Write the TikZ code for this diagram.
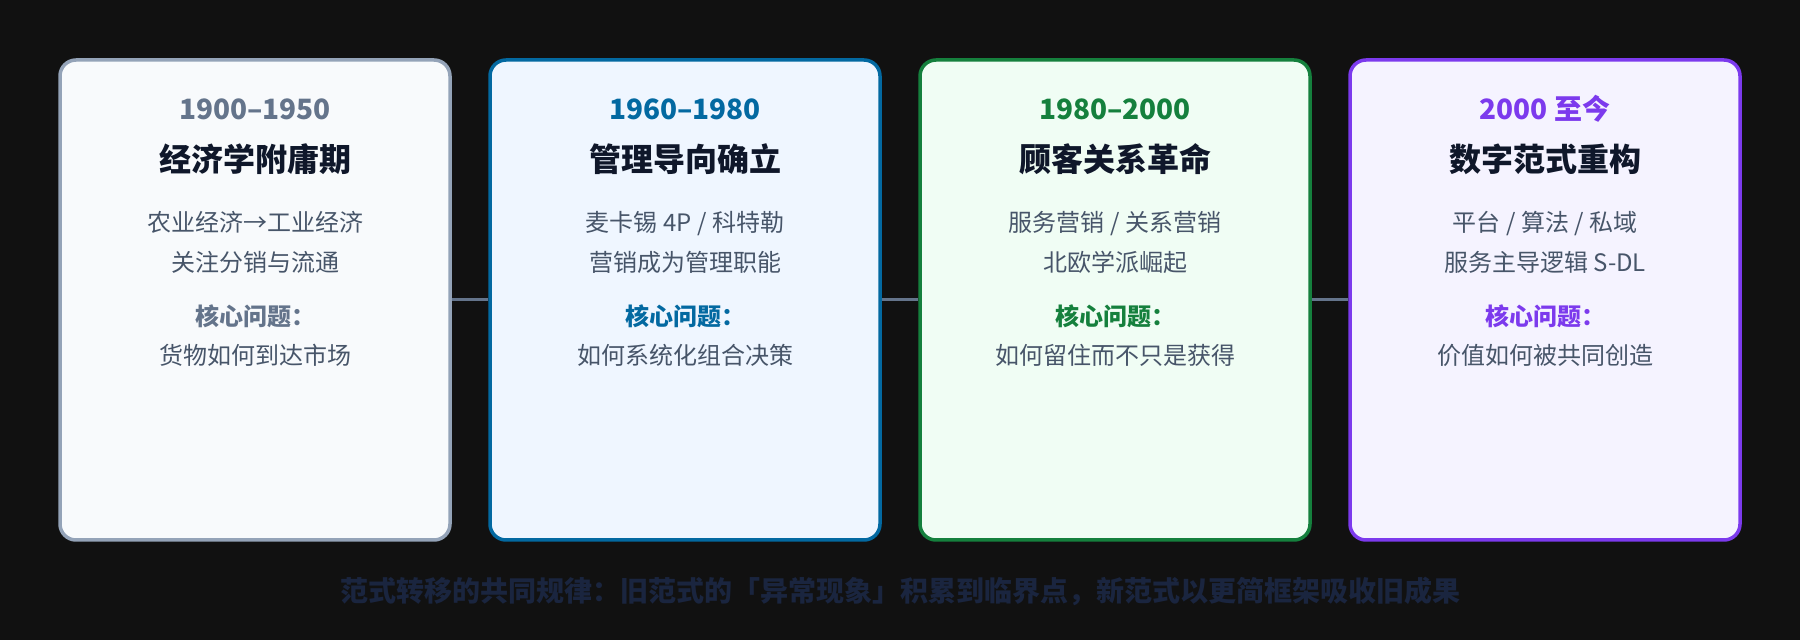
\documentclass[tikz,border=0pt]{standalone}
\usepackage{fontspec}
\setmainfont{Noto Sans CJK SC}
\usetikzlibrary{positioning}
\definecolor{bgdark}{HTML}{111111}
\definecolor{slateline}{HTML}{94A3B8}
\definecolor{slatefill}{HTML}{F8FAFC}
\definecolor{slateink}{HTML}{64748B}
\definecolor{skyline}{HTML}{0369A1}
\definecolor{skyfill}{HTML}{EFF6FF}
\definecolor{skyink}{HTML}{0369A1}
\definecolor{greenline}{HTML}{15803D}
\definecolor{greenfill}{HTML}{F0FDF4}
\definecolor{greenink}{HTML}{15803D}
\definecolor{violetline}{HTML}{7C3AED}
\definecolor{violetfill}{HTML}{F5F3FF}
\definecolor{violetink}{HTML}{7C3AED}
\definecolor{titleink}{HTML}{0F172A}
\definecolor{bodyink}{HTML}{475569}
\definecolor{linkgrey}{HTML}{64748B}
\definecolor{mottoink}{HTML}{1A253F}

\begin{document}
\begin{tikzpicture}[
    x=1pt, y=1pt,
    node distance=40pt,
    era/.style={
      rectangle,
      draw,
      rounded corners=16pt,
      line width=3.5pt,
      minimum width=390pt,
      minimum height=480pt,
      inner sep=0pt,
      outer sep=0pt
    },
    years/.style={font=\fontsize{28}{32}\selectfont\bfseries},
    heading/.style={font=\fontsize{32}{36}\selectfont\bfseries,text=titleink},
    lines/.style={font=\fontsize{24}{40}\selectfont,text=bodyink,align=center},
    key/.style={font=\fontsize{24}{28}\selectfont\bfseries},
    answer/.style={font=\fontsize{24}{28}\selectfont,text=bodyink},
    link/.style={draw=linkgrey,line width=3pt,shorten <=1.75pt,shorten >=1.75pt},
    motto/.style={font=\fontsize{28}{32}\selectfont\bfseries,text=mottoink}
  ]

    % Dark backdrop, which also fixes the page size.
    \fill[bgdark] (0,0) rectangle (1800,640);

    % The four eras, side by side.
    \node[era,draw=slateline,fill=slatefill] (e1) at (255,340) {};
    \node[era,draw=skyline,fill=skyfill,right=of e1] (e2) {};
    \node[era,draw=greenline,fill=greenfill,right=of e2] (e3) {};
    \node[era,draw=violetline,fill=violetfill,right=of e3] (e4) {};

    % Join neighbouring eras.
    \draw[link] (e1.east) -- (e2.west);
    \draw[link] (e2.east) -- (e3.west);
    \draw[link] (e3.east) -- (e4.west);

    % Era 1.
    \node[years,text=slateink] (y1) at ([yshift=-49pt]e1.north) {1900–1950};
    \node[heading] (t1) at ([yshift=-99pt]e1.north) {经济学附庸期};
    \node[lines] (l1) at ([yshift=-182pt]e1.north)
      {农业经济→工业经济\\关注分销与流通};
    \node[key,text=slateink] (k1) at ([yshift=-256pt]e1.north) {核心问题：};
    \node[answer] (a1) at ([yshift=-295pt]e1.north) {货物如何到达市场};

    % Era 2.
    \node[years,text=skyink] (y2) at ([yshift=-49pt]e2.north) {1960–1980};
    \node[heading] (t2) at ([yshift=-99pt]e2.north) {管理导向确立};
    \node[lines] (l2) at ([yshift=-182pt]e2.north)
      {麦卡锡 4P / 科特勒\\营销成为管理职能};
    \node[key,text=skyink] (k2) at ([yshift=-256pt]e2.north) {核心问题：};
    \node[answer] (a2) at ([yshift=-295pt]e2.north) {如何系统化组合决策};

    % Era 3.
    \node[years,text=greenink] (y3) at ([yshift=-49pt]e3.north) {1980–2000};
    \node[heading] (t3) at ([yshift=-99pt]e3.north) {顾客关系革命};
    \node[lines] (l3) at ([yshift=-182pt]e3.north)
      {服务营销 / 关系营销\\北欧学派崛起};
    \node[key,text=greenink] (k3) at ([yshift=-256pt]e3.north) {核心问题：};
    \node[answer] (a3) at ([yshift=-295pt]e3.north) {如何留住而不只是获得};

    % Era 4.
    \node[years,text=violetink] (y4) at ([yshift=-49pt]e4.north) {2000 至今};
    \node[heading] (t4) at ([yshift=-99pt]e4.north) {数字范式重构};
    \node[lines] (l4) at ([yshift=-182pt]e4.north)
      {平台 / 算法 / 私域\\服务主导逻辑 S-DL};
    \node[key,text=violetink] (k4) at ([yshift=-256pt]e4.north) {核心问题：};
    \node[answer] (a4) at ([yshift=-295pt]e4.north) {价值如何被共同创造};

    % Common pattern across the shifts.
    \node[motto] (m) at (900,49)
      {范式转移的共同规律：旧范式的「异常现象」积累到临界点，新范式以更简框架吸收旧成果};
  \end{tikzpicture}
\end{document}
